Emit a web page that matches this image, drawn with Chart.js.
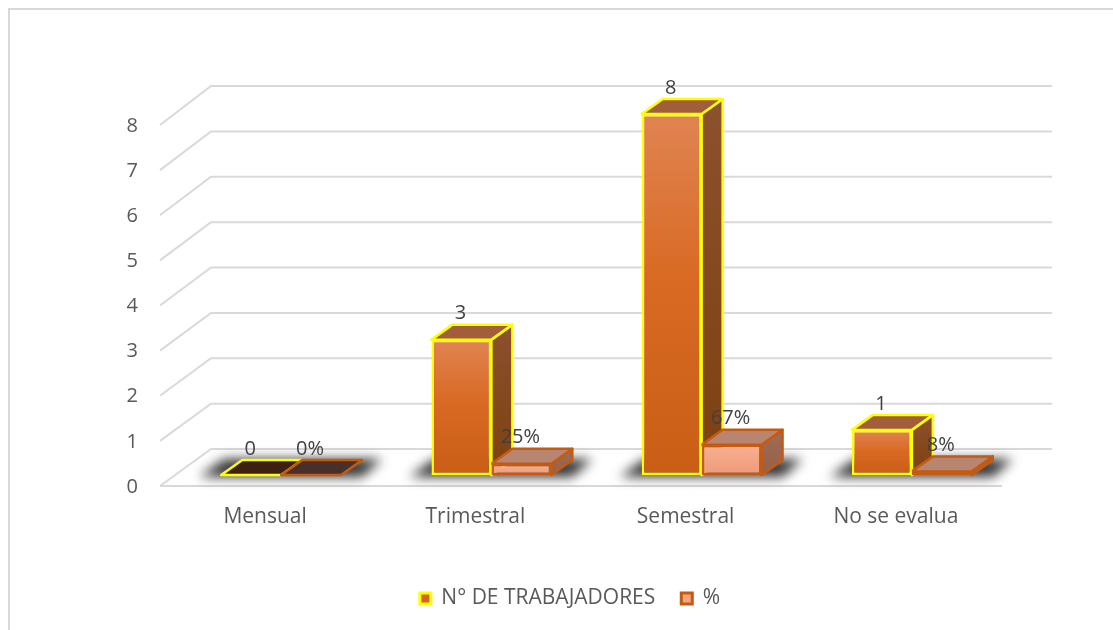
<!DOCTYPE html>
<html>
<head>
<meta charset="utf-8">
<title>Frecuencia de evaluacion</title>
<script src="https://cdn.jsdelivr.net/npm/chart.js@4"></script>
<style>
    html, body { margin: 0; padding: 0; background: #fff; overflow: hidden; }
    #wrap { position: relative; width: 1113px; height: 630px; overflow: hidden; }
    #frame { position: absolute; left: 8px; top: 8px; width: 1120px; height: 640px; border: 2px solid #d9d9d9; box-sizing: border-box; }
    canvas { position: absolute; left: 0; top: 0; }
</style>
</head>
<body>
<div id="wrap">
    <div id="frame"></div>
    <canvas id="evalChart" width="1113" height="630"></canvas>
</div>
<script>
const categories = ['Mensual', 'Trimestral', 'Semestral', 'No se evalua'];
const workers = [0, 3, 8, 1];
const percents = [0, 0.25, 0.67, 0.08];
const percentLabels = ['0%', '25%', '67%', '8%'];
const seriesNames = ['N° DE TRABAJADORES', '%'];
const yTicks = [0, 1, 2, 3, 4, 5, 6, 7, 8];

const fontName = '"Open Sans", sans-serif';

// face colours of the fake 3D boxes, one entry per series
const faces = [
    { light: '#e08452', mid: '#d96a24', dark: '#c95e15', flat: '#d0651f', line: '#ffff00', top: '#a25e3b', sideA: '#8c512e', sideB: '#7d400f', zero: '#3e2010' },
    { light: '#f6b194', mid: '#f4a685', dark: '#ef9a78', flat: '#f4a582', line: '#c55a11', top: '#b88670', sideA: '#a06c55', sideB: '#96604a', zero: '#47302a' }
];

function frontFill(ctx, i) {
    const chart = ctx.chart;
    // zero height bars and the legend swatch get the flat colour
    if (!chart.chartArea || ctx.parsed === undefined || !ctx.parsed.y) return faces[i].flat;
    const y = chart.scales.y;
    const g = chart.ctx.createLinearGradient(0, y.getPixelForValue(ctx.parsed.y), 0, y.getPixelForValue(0));
    g.addColorStop(0, faces[i].light);
    g.addColorStop(0.45, faces[i].mid);
    g.addColorStop(1, faces[i].dark);
    return g;
}

const box3d = {
    id: 'box3d',
    beforeDatasetsDraw(chart) {
        const c = chart.ctx;
        const y = chart.scales.y;
        const dx = 21, dy = 15;

        // walls and floor lines
        c.save();
        c.strokeStyle = '#d9d9d9';
        c.lineWidth = 2;
        yTicks.forEach(v => {
            const p = y.getPixelForValue(v);
            const back = p - 26 - v * 0.25;
            c.beginPath();
            c.moveTo(160, p + 11);
            c.lineTo(211, back);
            c.lineTo(1052, back);
            c.stroke();
        });
        c.beginPath();
        c.moveTo(160, y.getPixelForValue(0) + 11);
        c.lineTo(1002, y.getPixelForValue(0) + 11);
        c.stroke();
        c.restore();

        // floor shadow behind each pair
        const a = chart.getDatasetMeta(0).data;
        const b = chart.getDatasetMeta(1).data;
        c.save();
        c.filter = 'blur(6px)';
        c.fillStyle = '#333333';
        a.forEach((bar, i) => {
            const l = bar.x - bar.width / 2;
            const r = b[i].x + b[i].width / 2;
            const base = y.getPixelForValue(0);
            c.beginPath();
            c.moveTo(l - 22, base + 2);
            c.lineTo(r + 21, base + 2);
            c.lineTo(r + 41, base - 16);
            c.lineTo(l + 3, base - 16);
            c.closePath();
            c.fill();
        });
        c.restore();

        // side and top of the boxes, first series goes behind the second
        [a, b].forEach((bars, s) => {
            const f = faces[s];
            bars.forEach(bar => {
                const l = bar.x - bar.width / 2;
                const r = bar.x + bar.width / 2;
                const t = bar.y;
                const base = bar.base;
                const isZero = Math.abs(base - t) < 0.5;

                c.save();
                c.lineJoin = 'round';
                c.lineWidth = 2.5;
                c.strokeStyle = f.line;
                if (!isZero) {
                    const g = c.createLinearGradient(0, t - dy, 0, base);
                    g.addColorStop(0, f.sideA);
                    g.addColorStop(1, f.sideB);
                    c.fillStyle = g;
                    c.beginPath();
                    c.moveTo(r, t);
                    c.lineTo(r + dx, t - dy);
                    c.lineTo(r + dx, base - dy);
                    c.lineTo(r, base);
                    c.closePath();
                    c.fill();
                    c.stroke();
                }
                c.fillStyle = isZero ? f.zero : f.top;
                c.beginPath();
                c.moveTo(l, t);
                c.lineTo(l + dx, t - dy);
                c.lineTo(r + dx, t - dy);
                c.lineTo(r, t);
                c.closePath();
                c.fill();
                c.stroke();
                c.restore();
            });
        });
    },
    afterDatasetsDraw(chart) {
        const c = chart.ctx;
        c.save();
        c.font = '20px ' + fontName;
        c.fillStyle = '#404040';
        c.textAlign = 'center';
        c.textBaseline = 'middle';
        chart.getDatasetMeta(0).data.forEach((bar, i) => {
            c.fillText(String(workers[i]), bar.x - 1, bar.y - 26);
        });
        chart.getDatasetMeta(1).data.forEach((bar, i) => {
            c.fillText(percentLabels[i], bar.x - 1, bar.y - 26);
        });
        c.restore();
    }
};

new Chart(document.getElementById('evalChart'), {
    type: 'bar',
    data: {
        labels: categories,
        datasets: [
            {
                label: seriesNames[0],
                data: workers,
                backgroundColor: ctx => frontFill(ctx, 0),
                borderColor: faces[0].line,
                borderWidth: 2.5,
                borderSkipped: false
            },
            {
                label: seriesNames[1],
                data: percents,
                backgroundColor: ctx => frontFill(ctx, 1),
                borderColor: faces[1].line,
                borderWidth: 2.5,
                borderSkipped: false
            }
        ]
    },
    options: {
        responsive: false,
        animation: false,
        events: [],
        categoryPercentage: 0.57,
        barPercentage: 1,
        layout: { padding: { top: 114, right: 96, left: 123, bottom: 11 } },
        scales: {
            x: {
                grid: { display: false },
                border: { display: false },
                afterFit: scale => { scale.height = 87; },
                ticks: {
                    color: '#595959',
                    font: { family: fontName, size: 21 },
                    labelOffset: -16,
                    padding: 21,
                    maxRotation: 0
                }
            },
            y: {
                min: 0,
                max: 8,
                grid: { display: false, drawTicks: false },
                border: { display: false },
                afterFit: scale => { scale.width = 53; },
                ticks: {
                    stepSize: 1,
                    color: '#595959',
                    font: { family: fontName, size: 20 },
                    labelOffset: 12,
                    padding: 38
                }
            }
        },
        plugins: {
            tooltip: { enabled: false },
            legend: {
                position: 'bottom',
                labels: {
                    boxWidth: 11,
                    boxHeight: 11,
                    padding: 26,
                    color: '#595959',
                    font: { family: fontName, size: 21 },
                    generateLabels: chart => Chart.defaults.plugins.legend.labels.generateLabels(chart)
                        .map(item => ({ ...item, lineWidth: 3 }))
                }
            }
        }
    },
    plugins: [box3d]
});
</script>
</body>
</html>
